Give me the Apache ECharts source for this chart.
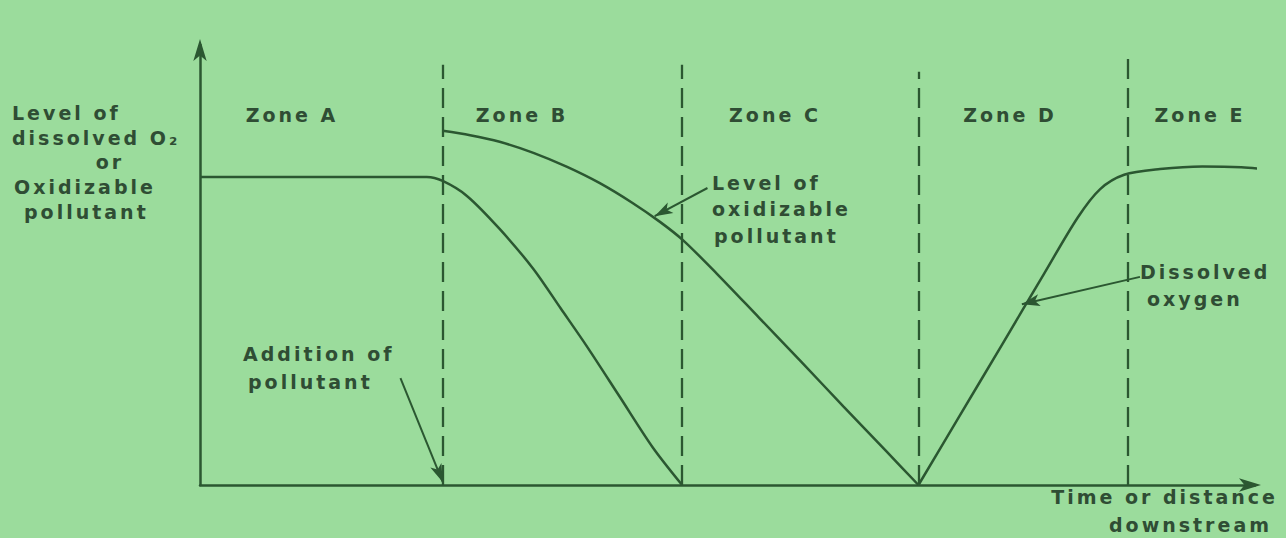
<!DOCTYPE html>
<html><head>
<meta http-equiv="Content-Type" content="text/html; charset=UTF-8">
<title>Zones of pollution downstream</title>
<script src="https://cdn.jsdelivr.net/npm/echarts@6.0.0/dist/echarts.min.js"></script>
<style>
html,body{margin:0;padding:0;background:#9bdc9c;}
#main{width:1286px;height:538px;}
#main text{letter-spacing:3px;}
</style>
</head>
<body>
<div id="main"></div>
<script>
// x: time / distance downstream (0..100), y: level (0..100)
var doBefore = [[0,70.0],[21.5,70.0],[23.0,69.1],[25.3,65.7],[28.4,58.2],[31.6,49.1],[34.2,40.1],[36.7,31.4],[39.8,20.0],[42.9,8.6],[45.7,0]];
var doAfter = [[68.1,0],[72.0,15.7],[76.0,31.8],[80.0,48.0],[83.2,60.8],[85.3,67.2],[87.6,70.5],[91.0,71.8],[95.0,72.4],[98.7,72.2],[102.4,71.4]];
var pollutant = [[23.0,80.5],[25.6,79.5],[28.4,78.0],[31.6,75.5],[34.8,72.3],[37.9,68.6],[41.0,64.1],[43.6,59.8],[45.8,55.6],[49.0,48.0],[53.0,38.0],[57.0,28.0],[61.0,17.8],[65.0,7.8],[68.1,0]];
var zoneBounds = [23.0, 45.7, 68.1, 87.9];
var zoneTops = [95.5, 95.5, 93.9, 97.3];
var zoneNames = ['Zone A','Zone B','Zone C','Zone D','Zone E'];
// pointer arrows [from, to]
var arrows = [
    [[19.0,24.3],[23.0,0.7]],   // addition of pollutant
    [[48.1,67.5],[43.1,61.1]],  // level of oxidizable pollutant
    [[89.1,47.3],[77.9,41.1]]   // dissolved oxygen
];

var ink = '#2b5731';
var txt = '#2f4d34';
var font = 'bold 19px "DejaVu Sans"';

function t(x, y, s, align){
    return {type:'text', x:x, y:y, silent:true,
        style:{text:s, x:0, y:0, font:font, fill:txt, align:align||'left', verticalAlign:'middle'}};
}

var zoneLines = [];
for (var i=0;i<zoneBounds.length;i++){
    zoneLines.push([{coord:[zoneBounds[i],0]},{coord:[zoneBounds[i],zoneTops[i]]}]);
}
var arrowLines = [];
for (var j=0;j<arrows.length;j++){
    arrowLines.push([{coord:arrows[j][0]},{coord:arrows[j][1]}]);
}

var zoneX = [292, 522, 775, 1010, 1200];
var labels = [];
for (var k=0;k<zoneNames.length;k++){
    labels.push(t(zoneX[k], 115, zoneNames[k], 'center'));
}
labels = labels.concat([
    t(12,113,'Level of'), t(12,138,'dissolved O\u2082'), t(110,162,'or','center'),
    t(14,187,'Oxidizable'), t(24,212,'pollutant'),
    t(712,183,'Level of'), t(712,209,'oxidizable'), t(714,236,'pollutant'),
    t(1140,272,'Dissolved'), t(1147,299,'oxygen'),
    t(243,354,'Addition of'), t(248,382,'pollutant'),
    t(1278,497,'Time or distance','right'), t(1272,525,'downstream','right')
]);

var chart = echarts.init(document.getElementById('main'), null, {renderer:'svg'});
chart.setOption({
    backgroundColor:'#9bdc9c',
    animation:false,
    grid:{left:200, right:31, top:45, bottom:53},
    xAxis:{type:'value', min:0, max:100,
        axisLine:{show:true, symbol:['none','arrow'], symbolSize:[10,22], symbolOffset:[0,6], lineStyle:{color:ink, width:2.5}},
        axisTick:{show:false}, axisLabel:{show:false}, splitLine:{show:false}},
    yAxis:{type:'value', min:0, max:100,
        axisLine:{show:true, symbol:['none','arrow'], symbolSize:[10,22], symbolOffset:[0,6], lineStyle:{color:ink, width:2.5}},
        axisTick:{show:false}, axisLabel:{show:false}, splitLine:{show:false}},
    graphic:labels,
    series:[
        {name:'Dissolved oxygen', type:'line', data:doBefore, smooth:0.3, showSymbol:false, clip:false,
            lineStyle:{color:ink, width:2.5}},
        {name:'Dissolved oxygen', type:'line', data:doAfter, smooth:0.3, showSymbol:false, clip:false,
            lineStyle:{color:ink, width:2.5}},
        {name:'Level of oxidizable pollutant', type:'line', data:pollutant, smooth:0.3, showSymbol:false, clip:false,
            lineStyle:{color:ink, width:2.5},
            markLine:{silent:true, symbol:['none','none'], label:{show:false},
                lineStyle:{color:ink, width:2.3, type:[20,9]}, data:zoneLines}},
        {name:'pointers', type:'line', data:[], silent:true,
            markLine:{silent:true, symbol:['none','arrow'], symbolSize:[9,18], label:{show:false},
                lineStyle:{color:ink, width:2, type:'solid'}, data:arrowLines}}
    ]
});
</script>
</body></html>
